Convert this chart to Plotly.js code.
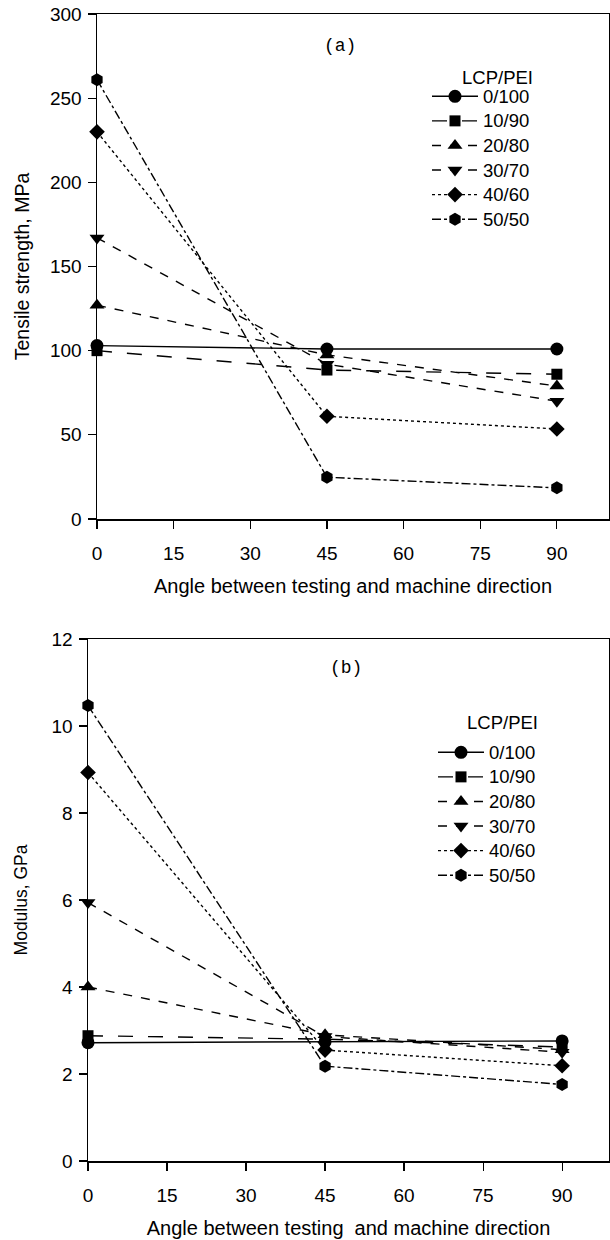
<!DOCTYPE html>
<html>
<head>
<meta charset="utf-8">
<script src="https://cdn.plot.ly/plotly-3.0.1.min.js"></script>
<style>html,body{margin:0;padding:0;background:#fff;}#chart{width:610px;height:1240px;}</style>
</head>
<body>
<div id="chart"></div>
<script>
// Data
const angles = [0, 45, 90];
const seriesNames = ["0/100", "10/90", "20/80", "30/70", "40/60", "50/50"];
const tensile_0_100 = [103, 101, 101];
const tensile_10_90 = [100, 88.5, 86];
const tensile_20_80 = [127, 97.5, 79];
const tensile_30_70 = [167, 92, 70];
const tensile_40_60 = [230, 61, 53.5];
const tensile_50_50 = [261, 24.8, 18.5];
const modulus_0_100 = [2.72, 2.74, 2.76];
const modulus_10_90 = [2.88, 2.8, 2.62];
const modulus_20_80 = [4.0, 2.9, 2.56];
const modulus_30_70 = [5.94, 2.86, 2.5];
const modulus_40_60 = [8.93, 2.55, 2.19];
const modulus_50_50 = [10.47, 2.18, 1.76];
const xTicks = [0, 15, 30, 45, 60, 75, 90];
const tensileTicks = [0, 50, 100, 150, 200, 250, 300];
const modulusTicks = [0, 2, 4, 6, 8, 10, 12];

const tensile = [tensile_0_100, tensile_10_90, tensile_20_80, tensile_30_70, tensile_40_60, tensile_50_50];
const modulus = [modulus_0_100, modulus_10_90, modulus_20_80, modulus_30_70, modulus_40_60, modulus_50_50];
const symbols = ["circle", "square", "triangle-up", "triangle-down", "diamond", "hexagon"];
const dashes = ["solid", "longdash", "dash", "dash", "dot", "dashdot"];
const msizes = [13, 11, 13, 13, 12, 13];
const legName = n => '<span style="font-size:18.5px">' + n + '</span>';

const traces = [];
seriesNames.forEach((n, i) => {
  traces.push({x: angles, y: tensile[i], name: legName(n), type: 'scatter', mode: 'lines+markers',
    xaxis: 'x', yaxis: 'y', legend: 'legend', cliponaxis: false,
    line: {color: '#000', width: 1.4, dash: dashes[i]},
    marker: {symbol: symbols[i], size: msizes[i], color: '#000'}});
});
seriesNames.forEach((n, i) => {
  traces.push({x: angles, y: modulus[i], name: legName(n), type: 'scatter', mode: 'lines+markers',
    xaxis: 'x2', yaxis: 'y2', legend: 'legend2', cliponaxis: false,
    line: {color: '#000', width: 1.4, dash: dashes[i]},
    marker: {symbol: symbols[i], size: msizes[i], color: '#000'}});
});

const W = 610, H = 1240;
const FAM = 'Liberation Sans, Arial, sans-serif';
const tickFont = {family: FAM, size: 19, color: '#000'};
const titleFont = {family: FAM, size: 20, color: '#000'};
const legFont = {family: FAM, size: 16.6, color: '#000'};
const legTitleFont = {family: FAM, size: 18.5, color: '#000'};
const monoFont = {family: 'Liberation Mono, Courier New, monospace', size: 18, color: '#000'};
const axBase = {showline: true, linecolor: '#000', linewidth: 1.5, mirror: true,
  ticks: 'outside', ticklen: 8, tickwidth: 1.2, tickcolor: '#000', showgrid: false, zeroline: false,
  tickfont: tickFont, fixedrange: true};

const layout = {
  width: W, height: H, margin: {l: 0, r: 0, t: 0, b: 0},
  paper_bgcolor: '#fff', plot_bgcolor: '#fff', font: tickFont, showlegend: true,
  xaxis: Object.assign({}, axBase, {domain: [97/W, 609/W], range: [0, 100.2], tickvals: xTicks,
    anchor: 'y', ticklabelstandoff: 9,
    title: {text: 'Angle between testing and machine direction', font: titleFont, standoff: 15}}),
  yaxis: Object.assign({}, axBase, {domain: [(H-519)/H, (H-14)/H], range: [0, 300], tickvals: tensileTicks,
    anchor: 'x', ticklabelstandoff: 2,
    title: {text: 'Tensile strength, MPa', font: {family: FAM, size: 19.5, color: '#000'}, standoff: 15}}),
  xaxis2: Object.assign({}, axBase, {domain: [88/W, 609/W], range: [0, 98.9], tickvals: xTicks,
    anchor: 'y2', ticklabelstandoff: 9,
    title: {text: 'Angle between testing&nbsp; and machine direction', font: titleFont, standoff: 15}}),
  yaxis2: Object.assign({}, axBase, {domain: [(H-1161)/H, (H-639)/H], range: [0, 12], tickvals: modulusTicks,
    anchor: 'x2', ticklabelstandoff: 2,
    title: {text: 'Modulus, GPa', font: {family: FAM, size: 17.5, color: '#000'}, standoff: 19}}),
  legend: {x: 427/W, y: 1 - 79/H, xanchor: 'left', yanchor: 'top', bgcolor: 'rgba(0,0,0,0)',
    font: legFont, itemwidth: 46, tracegroupgap: 0},
  legend2: {x: 433/W, y: 1 - 735/H, xanchor: 'left', yanchor: 'top', bgcolor: 'rgba(0,0,0,0)',
    font: legFont, itemwidth: 46, tracegroupgap: 0},
  annotations: [
    {text: 'LCP/PEI', x: 497/W, y: 1 - 77/H, xref: 'paper', yref: 'paper', showarrow: false,
      xanchor: 'center', yanchor: 'middle', font: legTitleFont},
    {text: 'LCP/PEI', x: 502/W, y: 1 - 723/H, xref: 'paper', yref: 'paper', showarrow: false,
      xanchor: 'center', yanchor: 'middle', font: legTitleFont},
    {text: '(a)', x: 340/W, y: 1 - 46/H, xref: 'paper', yref: 'paper', showarrow: false,
      xanchor: 'center', yanchor: 'middle', font: monoFont},
    {text: '(b)', x: 346/W, y: 1 - 668/H, xref: 'paper', yref: 'paper', showarrow: false,
      xanchor: 'center', yanchor: 'middle', font: monoFont}
  ]
};

Plotly.newPlot('chart', traces, layout, {displayModeBar: false, staticPlot: true});
</script>
</body>
</html>
